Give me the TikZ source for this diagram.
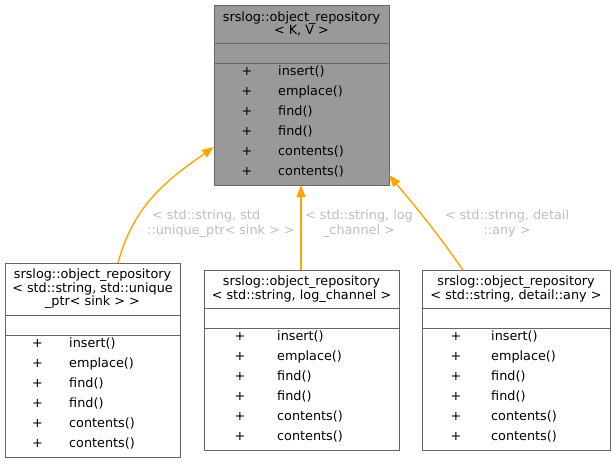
\documentclass[tikz,border=0pt]{standalone}
\usepackage{fontspec}
\setmainfont{DejaVu Sans}
\usetikzlibrary{arrows.meta}

\definecolor{basegray}{HTML}{999999}
\definecolor{boxline}{HTML}{666666}
\definecolor{edgeorange}{HTML}{FFA500}
\definecolor{labelgrey}{HTML}{BEBEBE}

\tikzset{
  classbox/.style={draw=boxline, line width=1pt, rectangle, inner sep=0pt, outer sep=0pt, anchor=north west},
  baseclass/.style={classbox, fill=basegray},
  divider/.style={draw=boxline, line width=1pt},
  title/.style={align=center, inner sep=0pt, font=\fontsize{12.8}{13.5}\selectfont},
  member/.style={inner sep=0pt, text height=9.5pt, text depth=3pt, font=\fontsize{12.8}{14}\selectfont},
  instarrow/.style={draw=edgeorange, line width=1.4pt, -{Triangle[length=12pt,width=9pt]}},
  tmpllabel/.style={text=labelgrey, align=center, inner sep=0pt, font=\fontsize{12.8}{15}\selectfont}
}

\begin{document}
\begin{tikzpicture}[x=1pt, y=1pt]
    \useasboundingbox (0,0) rectangle (615,-463);

    % the template
    \node[baseclass, minimum width=175pt, minimum height=180pt] (base) at (214,-5) {};
    \draw[divider] ([yshift=-38pt]base.north west) -- ([yshift=-38pt]base.north east);
    \draw[divider] ([yshift=-58pt]base.north west) -- ([yshift=-58pt]base.north east);
    \node[title] (base-title) at (301.5,-24) {srslog::object\_repository\\< K, V >};
    \foreach \m [count=\i from 0] in {insert(), emplace(), find(), find(), contents(), contents()} {
        \node[member] (base-plus\i) at (247,-72-20*\i) {+};
        \node[member, anchor=west] (base-m\i) at (278,-72-20*\i) {\m};
    }

    % instances
    \node[classbox, minimum width=175pt, minimum height=194pt] (sink) at (5,-263) {};
    \draw[divider] ([yshift=-52pt]sink.north west) -- ([yshift=-52pt]sink.north east);
    \draw[divider] ([yshift=-72pt]sink.north west) -- ([yshift=-72pt]sink.north east);
    \node[title] (sink-title) at (92.5,-289) {srslog::object\_repository\\< std::string, std::unique\\\_ptr< sink > >};
    \foreach \m [count=\i from 0] in {insert(), emplace(), find(), find(), contents(), contents()} {
        \node[member] (sink-plus\i) at (37.5,-344-20*\i) {+};
        \node[member, anchor=west] (sink-m\i) at (69,-344-20*\i) {\m};
    }

    \node[classbox, minimum width=195pt, minimum height=180pt] (logchan) at (204,-270) {};
    \draw[divider] ([yshift=-38pt]logchan.north west) -- ([yshift=-38pt]logchan.north east);
    \draw[divider] ([yshift=-58pt]logchan.north west) -- ([yshift=-58pt]logchan.north east);
    \node[title] (logchan-title) at (301.5,-289) {srslog::object\_repository\\< std::string, log\_channel >};
    \foreach \m [count=\i from 0] in {insert(), emplace(), find(), find(), contents(), contents()} {
        \node[member] (logchan-plus\i) at (240,-337-20*\i) {+};
        \node[member, anchor=west] (logchan-m\i) at (277,-337-20*\i) {\m};
    }

    \node[classbox, minimum width=188pt, minimum height=180pt] (anyrepo) at (422,-270) {};
    \draw[divider] ([yshift=-38pt]anyrepo.north west) -- ([yshift=-38pt]anyrepo.north east);
    \draw[divider] ([yshift=-58pt]anyrepo.north west) -- ([yshift=-58pt]anyrepo.north east);
    \node[title] (anyrepo-title) at (516,-289) {srslog::object\_repository\\< std::string, detail::any >};
    \foreach \m [count=\i from 0] in {insert(), emplace(), find(), find(), contents(), contents()} {
        \node[member] (anyrepo-plus\i) at (456,-337-20*\i) {+};
        \node[member, anchor=west] (anyrepo-m\i) at (491,-337-20*\i) {\m};
    }

    % template arguments
    \draw[instarrow] ([xshift=25.5pt]sink.north) to[out=75, in=-145] ([yshift=38pt]base.south west);
    \draw[instarrow] ([xshift=-0.5pt]logchan.north) to ([xshift=-0.5pt]base.south);
    \draw[instarrow] ([xshift=-53pt]anyrepo.north) to[out=125, in=-50] ([yshift=10pt]base.south east);
    \node[tmpllabel, align=left, anchor=west] (sink-args) at (147,-223.5) {\hspace*{5pt}< std::string, std\\::unique\_ptr< sink > >};
    \node[tmpllabel] (logchan-args) at (359,-223.5) {< std::string, log\\\_channel >};
    \node[tmpllabel] (anyrepo-args) at (507,-223.5) {< std::string, detail\\::any >};
\end{tikzpicture}
\end{document}
